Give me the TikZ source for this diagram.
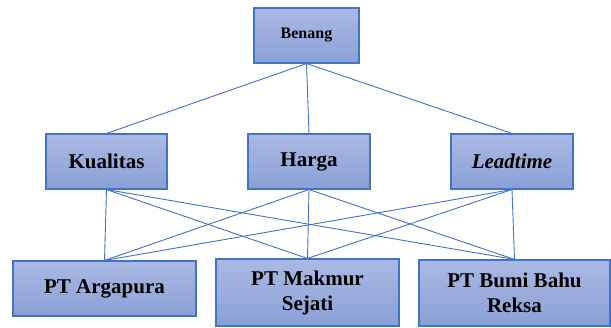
\documentclass[tikz,border=0pt]{standalone}
\usepackage{fontspec}
\setmainfont{Liberation Serif}
\newfontfamily\hurufkotak{Liberation Serif}
\definecolor{garisbiru}{HTML}{4472C4}
\definecolor{isiatas}{RGB}{171,185,227}
\definecolor{isibawah}{RGB}{137,160,214}
\tikzset{
  kotak/.style={draw=garisbiru, line width=1.1pt, top color=isiatas, bottom color=isibawah,
    inner sep=0pt, align=center, font=\hurufkotak\fontsize{21}{25}\selectfont\bfseries},
  garis/.style={draw=garisbiru, line width=0.9pt}
}
\begin{document}
\begin{tikzpicture}[x=1pt,y=1pt]
      \useasboundingbox (0,0) rectangle (611,327);
      % level atas
      \node[kotak, minimum width=105pt, minimum height=55pt, font=\hurufkotak\fontsize{16}{19}\selectfont\bfseries] (benang) at (306.5,291.5) {Benang};
      % kriteria
      \node[kotak, minimum width=121pt, minimum height=55pt] (kualitas) at (106.5,165.5) {Kualitas};
      \node[kotak, minimum width=122pt, minimum height=55pt] (harga) at (309,165.5) {Harga};
      \node[kotak, minimum width=122pt, minimum height=55pt] (leadtime) at (512,165.5) {\textit{Leadtime}};
      % alternatif
      \node[kotak, minimum width=183pt, minimum height=55pt] (argapura) at (104.5,38.5) {PT Argapura};
      \node[kotak, minimum width=183pt, minimum height=67pt] (makmur) at (307.5,34.5) {PT Makmur\\Sejati};
      \node[kotak, minimum width=191pt, minimum height=66pt] (bumi) at (514.5,34) {PT Bumi Bahu\\Reksa};
      \foreach \k in {kualitas,harga,leadtime}{
        \draw[garis] (benang.south) -- (\k.north);
        \foreach \a in {argapura,makmur,bumi}{
          \draw[garis] (\k.south) -- (\a.north);
        }
      }
    \end{tikzpicture}
\end{document}
